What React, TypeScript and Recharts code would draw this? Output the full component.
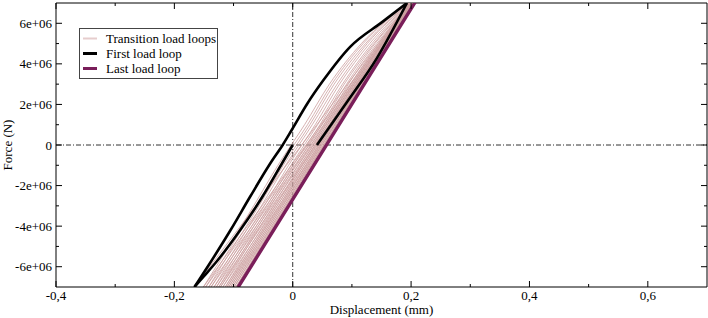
import { LineChart, Line, XAxis, YAxis, ReferenceLine, Legend } from "recharts";

document.body.style.margin = "0";

const SERIF = "'Liberation Serif', 'Times New Roman', Times, 'DejaVu Serif', serif";

// force levels (N) at which each transition unloading branch is sampled
const forceLevels = [7e6, 5e6, 3e6, 1e6, -1e6, -3e6, -5e6, -7e6];

// displacement (mm) of each transition unloading branch at forceLevels
const transitionDisp = [
  [0.196, 0.116, 0.062, 0.02, -0.025, -0.066, -0.108, -0.151],
  [0.196, 0.119, 0.066, 0.025, -0.021, -0.062, -0.104, -0.147],
  [0.197, 0.123, 0.07, 0.029, -0.016, -0.057, -0.1, -0.142],
  [0.198, 0.126, 0.075, 0.033, -0.012, -0.053, -0.095, -0.138],
  [0.199, 0.13, 0.079, 0.038, -0.007, -0.048, -0.091, -0.133],
  [0.199, 0.134, 0.084, 0.042, -0.003, -0.044, -0.087, -0.129],
  [0.2, 0.137, 0.087, 0.046, 0.001, -0.04, -0.083, -0.125],
  [0.201, 0.139, 0.091, 0.049, 0.005, -0.037, -0.079, -0.122],
  [0.201, 0.142, 0.094, 0.053, 0.009, -0.033, -0.076, -0.118],
  [0.202, 0.145, 0.098, 0.056, 0.013, -0.029, -0.072, -0.114],
  [0.203, 0.148, 0.101, 0.059, 0.016, -0.026, -0.069, -0.111],
  [0.203, 0.15, 0.104, 0.062, 0.019, -0.023, -0.066, -0.108],
  [0.204, 0.152, 0.107, 0.065, 0.022, -0.02, -0.063, -0.105],
  [0.204, 0.155, 0.11, 0.068, 0.025, -0.017, -0.06, -0.102],
  [0.205, 0.157, 0.113, 0.071, 0.028, -0.014, -0.057, -0.099],
  [0.205, 0.16, 0.116, 0.074, 0.031, -0.011, -0.054, -0.096],
  [0.206, 0.161, 0.118, 0.076, 0.033, -0.009, -0.052, -0.094],
];

// first load loop: initial loading, unloading, reloading
const firstLoadDisp = [0.041, 0.092, 0.142, 0.193];
const firstLoadForce = [0, 2.13e6, 4.27e6, 7e6];
const firstUnloadDisp = [0.193, 0.1515, 0.097, 0.052, 0.0253, -0.0017, -0.017, -0.0378, -0.0718, -0.105, -0.14, -0.166];
const firstUnloadForce = [7e6, 6.07e6, 4.84e6, 3.2e6, 2.07e6, 0.74e6, 0, -0.9e6, -2.54e6, -4.19e6, -5.83e6, -7e6];
const firstReloadDisp = [-0.166, -0.1507, -0.131, -0.0887, -0.051, -0.018, 0];
const firstReloadForce = [-7e6, -6.49e6, -5.83e6, -4.19e6, -2.54e6, -0.9e6, 0];

const lastLoopDisp = [-0.093, 0.205, 0.207, -0.091];
const lastLoopForce = [-7e6, 7e6, 7e6, -7e6];

const xTicks = [-0.4, -0.3, -0.2, -0.1, 0, 0.1, 0.2, 0.3, 0.4, 0.5, 0.6];
const xLabelTicks = [-0.4, -0.2, 0, 0.2, 0.4, 0.6];
const yTicks = [-6e6, -5e6, -4e6, -3e6, -2e6, -1e6, 0, 1e6, 2e6, 3e6, 4e6, 5e6, 6e6];
const yLabelTicks = [-6e6, -4e6, -2e6, 0, 2e6, 4e6, 6e6];

const TRANSITION_COLOR = "#cc9e9e";
const FIRST_COLOR = "#000000";
const LAST_COLOR = "#7a1e5a";

const legendItems = [
  { label: "Transition load loops", color: "#e6cdcd", width: 2 },
  { label: "First load loop", color: FIRST_COLOR, width: 3 },
  { label: "Last load loop", color: LAST_COLOR, width: 3 },
];

const WIDTH = 708;
const HEIGHT = 318;
const PLOT_W = 651;
const PLOT_H = 284;

const toPoints = (xs: number[], ys: number[]) => xs.map((x, i) => ({ x, y: ys[i] }));

const firstLoad = toPoints(firstLoadDisp, firstLoadForce);
const firstUnload = toPoints(firstUnloadDisp, firstUnloadForce);
const firstReload = toPoints(firstReloadDisp, firstReloadForce);
const lastLoop = toPoints(lastLoopDisp, lastLoopForce);

// reload from the previous loop's bottom up to this loop's top
const transitionReloads = transitionDisp.map((row, k) => {
  const prevBottom = k === 0 ? firstUnloadDisp[firstUnloadDisp.length - 1] : transitionDisp[k - 1][row.length - 1];
  return [
    { x: prevBottom, y: -7e6 },
    { x: row[0], y: 7e6 },
  ];
});
const transitionUnloads = transitionDisp.map((row) => toPoints(row, forceLevels));

const isIn = (list: number[], v: number) => list.some((t) => Math.abs(t - v) < 1e-9);
const fmtX = (v: number) => (v === 0 ? "0" : v.toFixed(1).replace(".", ","));
const fmtY = (v: number) => (v === 0 ? "0" : `${v / 1e6}e+06`);

function BottomTick({ x, y, payload }: any) {
  const major = isIn(xLabelTicks, payload.value);
  const len = major ? 6 : 3;
  return (
    <g>
      <line x1={x} x2={x} y1={y} y2={y - len} stroke="#000" />
      <line x1={x} x2={x} y1={y - PLOT_H} y2={y - PLOT_H + len} stroke="#000" />
      {major && (
        <text x={x} y={y + 12.5} textAnchor="middle" fontSize={13} fontFamily={SERIF} fill="#000">
          {fmtX(payload.value)}
        </text>
      )}
    </g>
  );
}

function LeftTick({ x, y, payload }: any) {
  const major = isIn(yLabelTicks, payload.value);
  const len = major ? 6 : 3;
  return (
    <g>
      <line x1={x} x2={x + len} y1={y} y2={y} stroke="#000" />
      <line x1={x + PLOT_W} x2={x + PLOT_W - len} y1={y} y2={y} stroke="#000" />
      {major && (
        <text x={x - 4} y={y + 4.5} textAnchor="end" fontSize={13} fontFamily={SERIF} fill="#000">
          {fmtY(payload.value)}
        </text>
      )}
    </g>
  );
}

function LegendBox() {
  return (
    <div style={{ width: 137, height: 49, border: "1px solid #444", background: "#fff" }}>
      <svg width={137} height={49}>
        {legendItems.map((item, i) => (
          <g key={item.label}>
            <line
              x1={3}
              x2={17}
              y1={9.5 + i * 15}
              y2={9.5 + i * 15}
              stroke={item.color}
              strokeWidth={item.width}
            />
            <text x={26} y={14 + i * 15} fontSize={13} fontFamily={SERIF} fill="#000">
              {item.label}
            </text>
          </g>
        ))}
      </svg>
    </div>
  );
}

export default function App() {
  return (
    <div style={{ fontFamily: SERIF }}>
      <LineChart
        width={WIDTH}
        height={HEIGHT}
        margin={{ top: 3, right: 1, bottom: 0, left: 0 }}
      >
        <XAxis
          dataKey="x"
          type="number"
          domain={[-0.4, 0.7]}
          ticks={xTicks}
          allowDataOverflow
          height={31}
          tickSize={0}
          tickMargin={0}
          tickLine={false}
          axisLine={{ stroke: "#000" }}
          tick={<BottomTick />}
          interval={0}
          label={{
            value: "Displacement (mm)",
            position: "insideBottom",
            offset: 4,
            fontSize: 13,
            fontFamily: SERIF,
            fill: "#000",
          }}
        />
        <YAxis
          type="number"
          domain={[-7e6, 7e6]}
          ticks={yTicks}
          allowDataOverflow
          width={56}
          tickSize={0}
          tickMargin={0}
          tickLine={false}
          axisLine={{ stroke: "#000" }}
          tick={<LeftTick />}
          interval={0}
          label={{
            value: "Force (N)",
            angle: -90,
            position: "insideLeft",
            offset: 7,
            fontSize: 13,
            fontFamily: SERIF,
            fill: "#000",
            style: { textAnchor: "middle" },
          }}
        />
        <ReferenceLine x={0} stroke="#333" strokeDasharray="5 2 1 2" />
        <ReferenceLine y={0} stroke="#333" strokeDasharray="5 2 1 2" />
        <ReferenceLine x={0.7} stroke="#000" />
        <ReferenceLine y={7e6} stroke="#000" />
        {transitionReloads.map((pts, k) => (
          <Line
            key={`r${k}`}
            data={pts}
            dataKey="y"
            type="linear"
            stroke={TRANSITION_COLOR}
            strokeWidth={0.8}
            dot={false}
            isAnimationActive={false}
          />
        ))}
        {transitionUnloads.map((pts, k) => (
          <Line
            key={`u${k}`}
            data={pts}
            dataKey="y"
            type="monotone"
            stroke={TRANSITION_COLOR}
            strokeWidth={0.8}
            dot={false}
            isAnimationActive={false}
          />
        ))}
        <Line
          data={lastLoop}
          dataKey="y"
          type="linear"
          stroke={LAST_COLOR}
          strokeWidth={2.4}
          dot={false}
          isAnimationActive={false}
        />
        {[firstLoad, firstUnload, firstReload].map((pts, k) => (
          <Line
            key={`f${k}`}
            data={pts}
            dataKey="y"
            type="monotone"
            stroke={FIRST_COLOR}
            strokeWidth={2.6}
            dot={false}
            isAnimationActive={false}
          />
        ))}
        <Legend
          layout="horizontal"
          verticalAlign="middle"
          content={<LegendBox />}
          wrapperStyle={{ left: 79, top: 28, width: 139, height: 51 }}
        />
      </LineChart>
    </div>
  );
}
